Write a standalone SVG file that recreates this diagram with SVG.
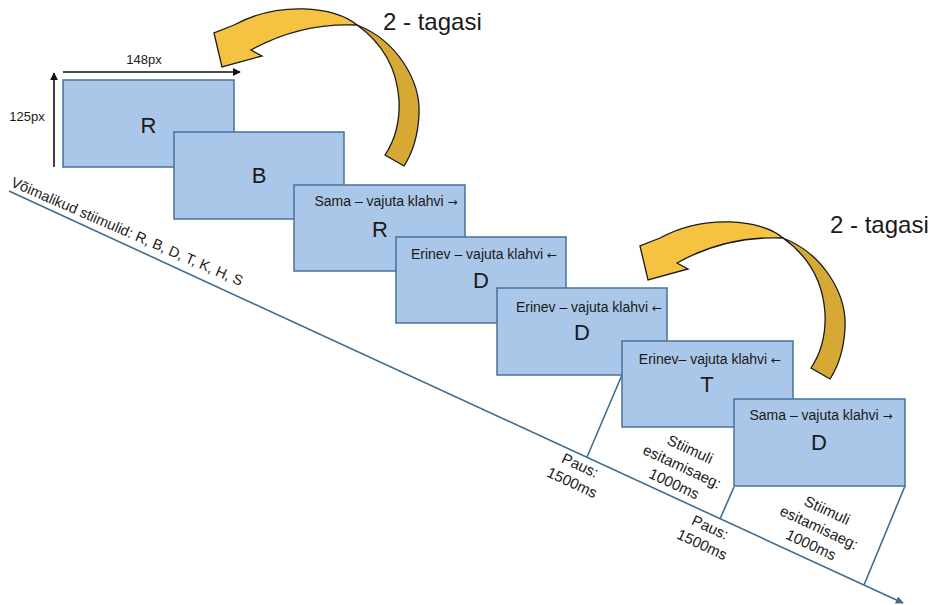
<svg xmlns="http://www.w3.org/2000/svg" width="928" height="605" viewBox="0 0 928 605">
<style>
text{font-family:"Liberation Sans",Arial,sans-serif;fill:#1a1a1a}
.card{fill:#aac6e8;stroke:#44739c;stroke-width:1.5}
.lbl{font-size:14px;text-anchor:middle}
.ar{font-family:"DejaVu Sans",sans-serif;font-size:12px}
.big{font-size:22px;text-anchor:middle}
.tl{stroke:#3f6d92;stroke-width:1.6;fill:none}
.dim{stroke:#111;stroke-width:1.6;fill:none}
.rot{font-size:15px;text-anchor:middle}
.front{fill:#f5c242;stroke:#1a1a1a;stroke-width:1.3;stroke-linejoin:miter}
.back{fill:#d5a934;stroke:#1a1a1a;stroke-width:1.3}
.title{font-size:24px}
</style>
<defs>
<marker id="tlhead" viewBox="0 0 10 10" refX="9" refY="5" markerWidth="5" markerHeight="5" orient="auto" markerUnits="strokeWidth">
<path d="M0,0 L10,5 L0,10 Z" fill="#3f6d92"/>
</marker>
<marker id="dimhead" viewBox="0 0 10 10" refX="9" refY="5" markerWidth="5" markerHeight="5" orient="auto" markerUnits="strokeWidth">
<path d="M0,0 L10,5 L0,10 Z" fill="#111"/>
</marker>
<g id="curved">
<path class="back" d="M357,25 C396,40 421,80 419,115 C418,135 413,152 404,166 L385,155 C395,140 400,120 399,100 C397,70 385,45 357,25 Z"/>
<path class="front" d="M214,33 L222,67 L262,56 L251,50 C276,36 311,23 357,25 C335,6 278,1 234,25 Z"/>
</g>
</defs>

<g id="connectors">
<line class="tl" x1="9" y1="191" x2="903" y2="603" marker-end="url(#tlhead)"/>
<line class="tl" x1="622" y1="375" x2="587" y2="457"/>
<line class="tl" x1="734" y1="487" x2="720" y2="519"/>
<line class="tl" x1="905" y1="486" x2="864" y2="585"/>
<line class="dim" x1="63" y1="72" x2="240" y2="72" marker-end="url(#dimhead)"/>
<line class="dim" x1="54" y1="167" x2="54" y2="73" marker-end="url(#dimhead)"/>
</g>

<g id="dim-labels">
<text x="144" y="64" font-size="13" text-anchor="middle">148px</text>
<text x="27" y="121" font-size="13" text-anchor="middle">125px</text>
</g>

<text transform="translate(10,186) rotate(23.5)" font-size="14.5">Võimalikud stiimulid: R, B, D, T, K, H, S</text>

<g id="card1"><rect class="card" x="63" y="80" width="171" height="87"/><text class="big" x="148.5" y="133">R</text></g>
<g id="card2"><rect class="card" x="174" y="132" width="170" height="87"/><text class="big" x="259" y="183">B</text></g>
<g id="card3"><rect class="card" x="294" y="185" width="171" height="86"/><text class="lbl" x="386" y="206">Sama – vajuta klahvi <tspan class="ar">→</tspan></text><text class="big" x="380" y="237">R</text></g>
<g id="card4"><rect class="card" x="396" y="237" width="170" height="86"/><text class="lbl" x="484" y="259">Erinev – vajuta klahvi <tspan class="ar">←</tspan></text><text class="big" x="481" y="288">D</text></g>
<g id="card5"><rect class="card" x="497" y="288" width="170" height="87"/><text class="lbl" x="589" y="312">Erinev – vajuta klahvi <tspan class="ar">←</tspan></text><text class="big" x="582" y="340">D</text></g>
<g id="card6"><rect class="card" x="622" y="341" width="171" height="86"/><text class="lbl" x="710" y="364">Erinev– vajuta klahvi <tspan class="ar">←</tspan></text><text class="big" x="707" y="392">T</text></g>
<g id="card7"><rect class="card" x="734" y="399" width="171" height="87"/><text class="lbl" x="821" y="420">Sama – vajuta klahvi <tspan class="ar">→</tspan></text><text class="big" x="819" y="450">D</text></g>

<g id="paus1" transform="translate(578,470) rotate(25)"><text class="rot" x="0" y="0">Paus:</text><text class="rot" x="0" y="19">1500ms</text></g>
<g id="stiimuli1" transform="translate(688,454) rotate(25)"><text class="rot" x="0" y="0">Stiimuli</text><text class="rot" x="0" y="19">esitamisaeg:</text><text class="rot" x="0" y="38">1000ms</text></g>
<g id="paus2" transform="translate(708,532) rotate(25)"><text class="rot" x="0" y="0">Paus:</text><text class="rot" x="0" y="19">1500ms</text></g>
<g id="stiimuli2" transform="translate(825,515) rotate(25)"><text class="rot" x="0" y="0">Stiimuli</text><text class="rot" x="0" y="19">esitamisaeg:</text><text class="rot" x="0" y="38">1000ms</text></g>

<g id="back1"><use href="#curved"/><text class="title" x="383" y="30">2 - tagasi</text></g>
<g id="back2"><use href="#curved" transform="translate(426,213)"/><text class="title" x="830" y="233">2 - tagasi</text></g>
</svg>
